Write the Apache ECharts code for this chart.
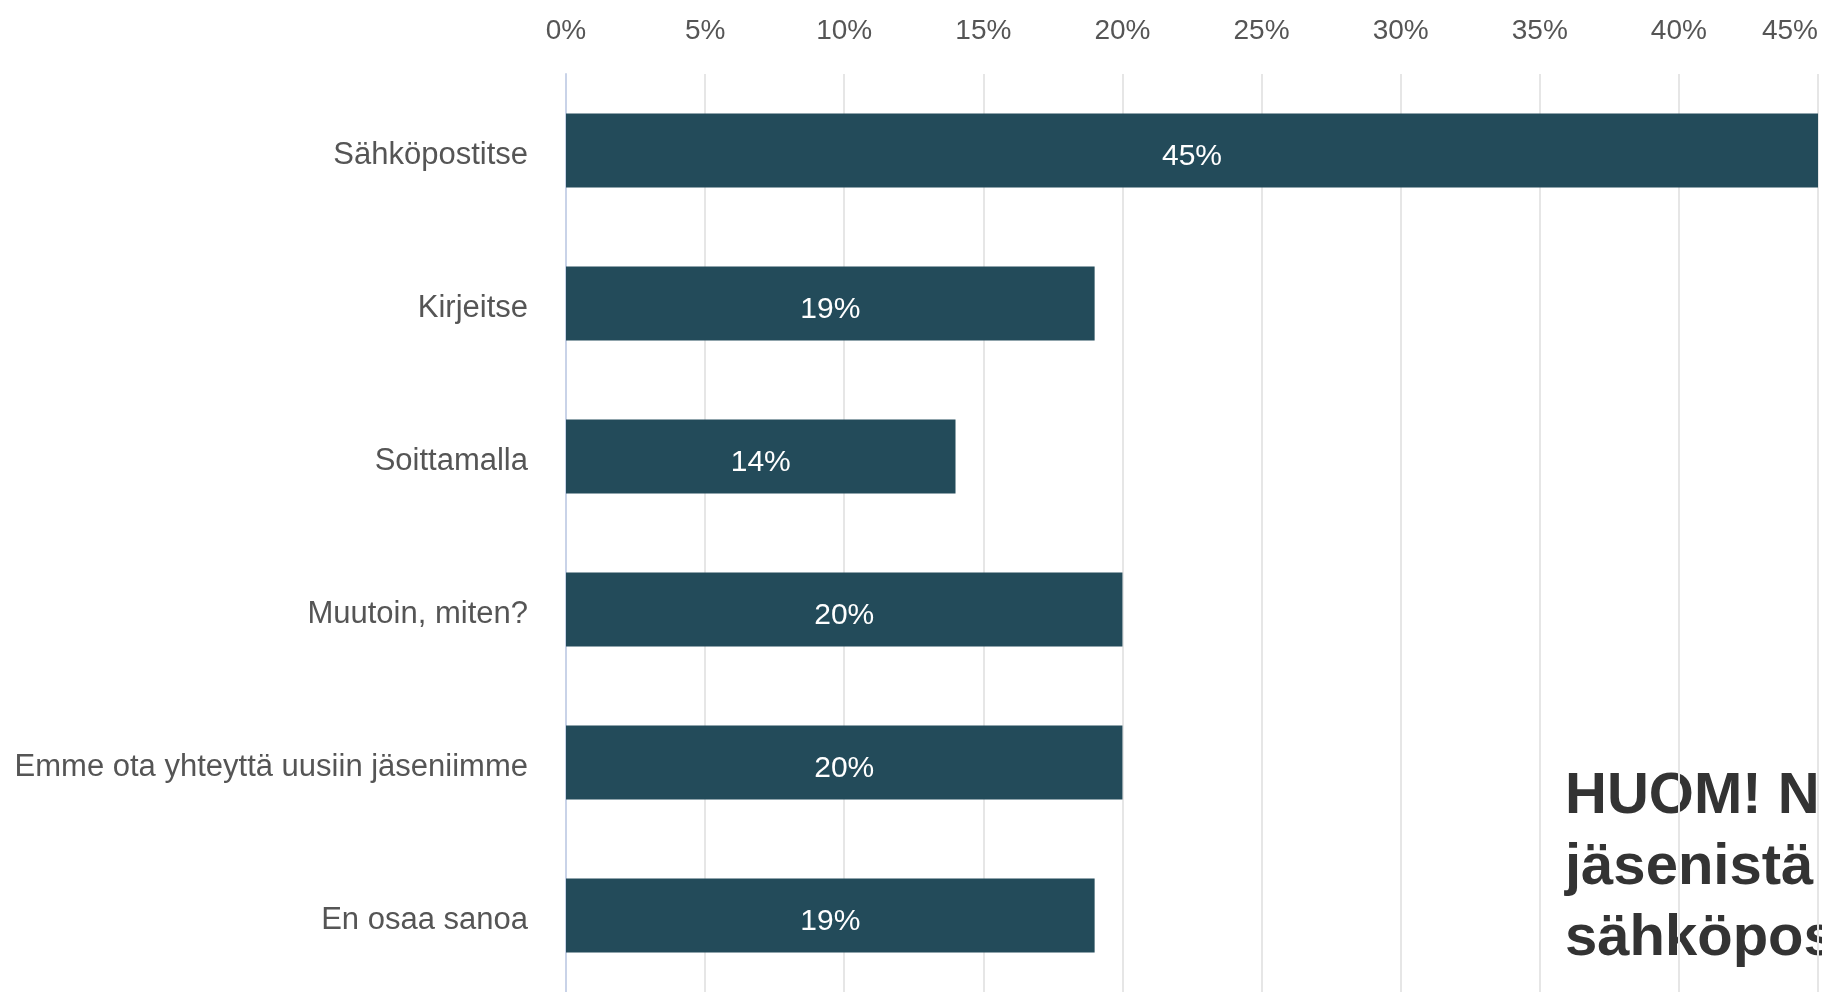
<!DOCTYPE html>
<html lang="fi" style="height: 100%">
<head>
<meta charset="utf-8">
<title>Yhteydenotto uusiin jäseniin</title>
</head>
<body style="height: 100%; margin: 0; background: #fff">
<div id="container" style="width: 1822px; height: 992px"></div>

<script type="text/javascript" src="https://cdn.jsdelivr.net/npm/echarts@6/dist/echarts.min.js"></script>

<script type="text/javascript">
var categories = [
    'Sähköpostitse',
    'Kirjeitse',
    'Soittamalla',
    'Muutoin, miten?',
    'Emme ota yhteyttä uusiin jäseniimme',
    'En osaa sanoa'
];
var shares = [45, 19, 14, 20, 20, 19];
var noteLines = ['HUOM! N', 'jäsenistä', 'sähköpost'];

var dom = document.getElementById('container');
var myChart = echarts.init(dom);

var font = 'Arial, "Liberation Sans", sans-serif';

var option = {
    animation: false,
    grid: {
        left: 566,
        right: 4,
        top: 74,
        bottom: -4
    },
    xAxis: {
        type: 'value',
        position: 'top',
        min: 0,
        max: 45,
        interval: 5,
        axisLine: { show: false },
        axisTick: { show: false },
        axisLabel: {
            formatter: '{value}%',
            fontFamily: font,
            fontSize: 28,
            color: '#555',
            margin: 29,
            alignMaxLabel: 'right'
        },
        splitLine: { lineStyle: { color: '#e6e6e6', width: 2 } }
    },
    yAxis: {
        type: 'category',
        inverse: true,
        data: categories,
        axisLine: { lineStyle: { color: '#c9d3e8', width: 2 } },
        axisTick: { show: false },
        axisLabel: {
            margin: 38,
            formatter: '{a|{value}}',
            rich: {
                a: {
                    fontFamily: font,
                    fontSize: 31,
                    color: '#555',
                    padding: [10, 0, 0, 0]
                }
            }
        }
    },
    series: [
        {
            type: 'bar',
            data: shares,
            barWidth: 74,
            itemStyle: { color: '#234b5a' },
            label: {
                show: true,
                position: 'inside',
                offset: [0, 6],
                formatter: '{c}%',
                fontFamily: font,
                fontSize: 30,
                color: '#fff'
            }
        }
    ],
    graphic: [
        {
            type: 'text',
            left: 1565,
            top: 761,
            style: {
                text: noteLines.join('\n'),
                font: 'bold 58px ' + font,
                lineHeight: 71,
                fill: '#333'
            }
        }
    ]
};

if (option && typeof option === 'object') {
    myChart.setOption(option);
}

window.addEventListener('resize', myChart.resize);
</script>
</body>
</html>
